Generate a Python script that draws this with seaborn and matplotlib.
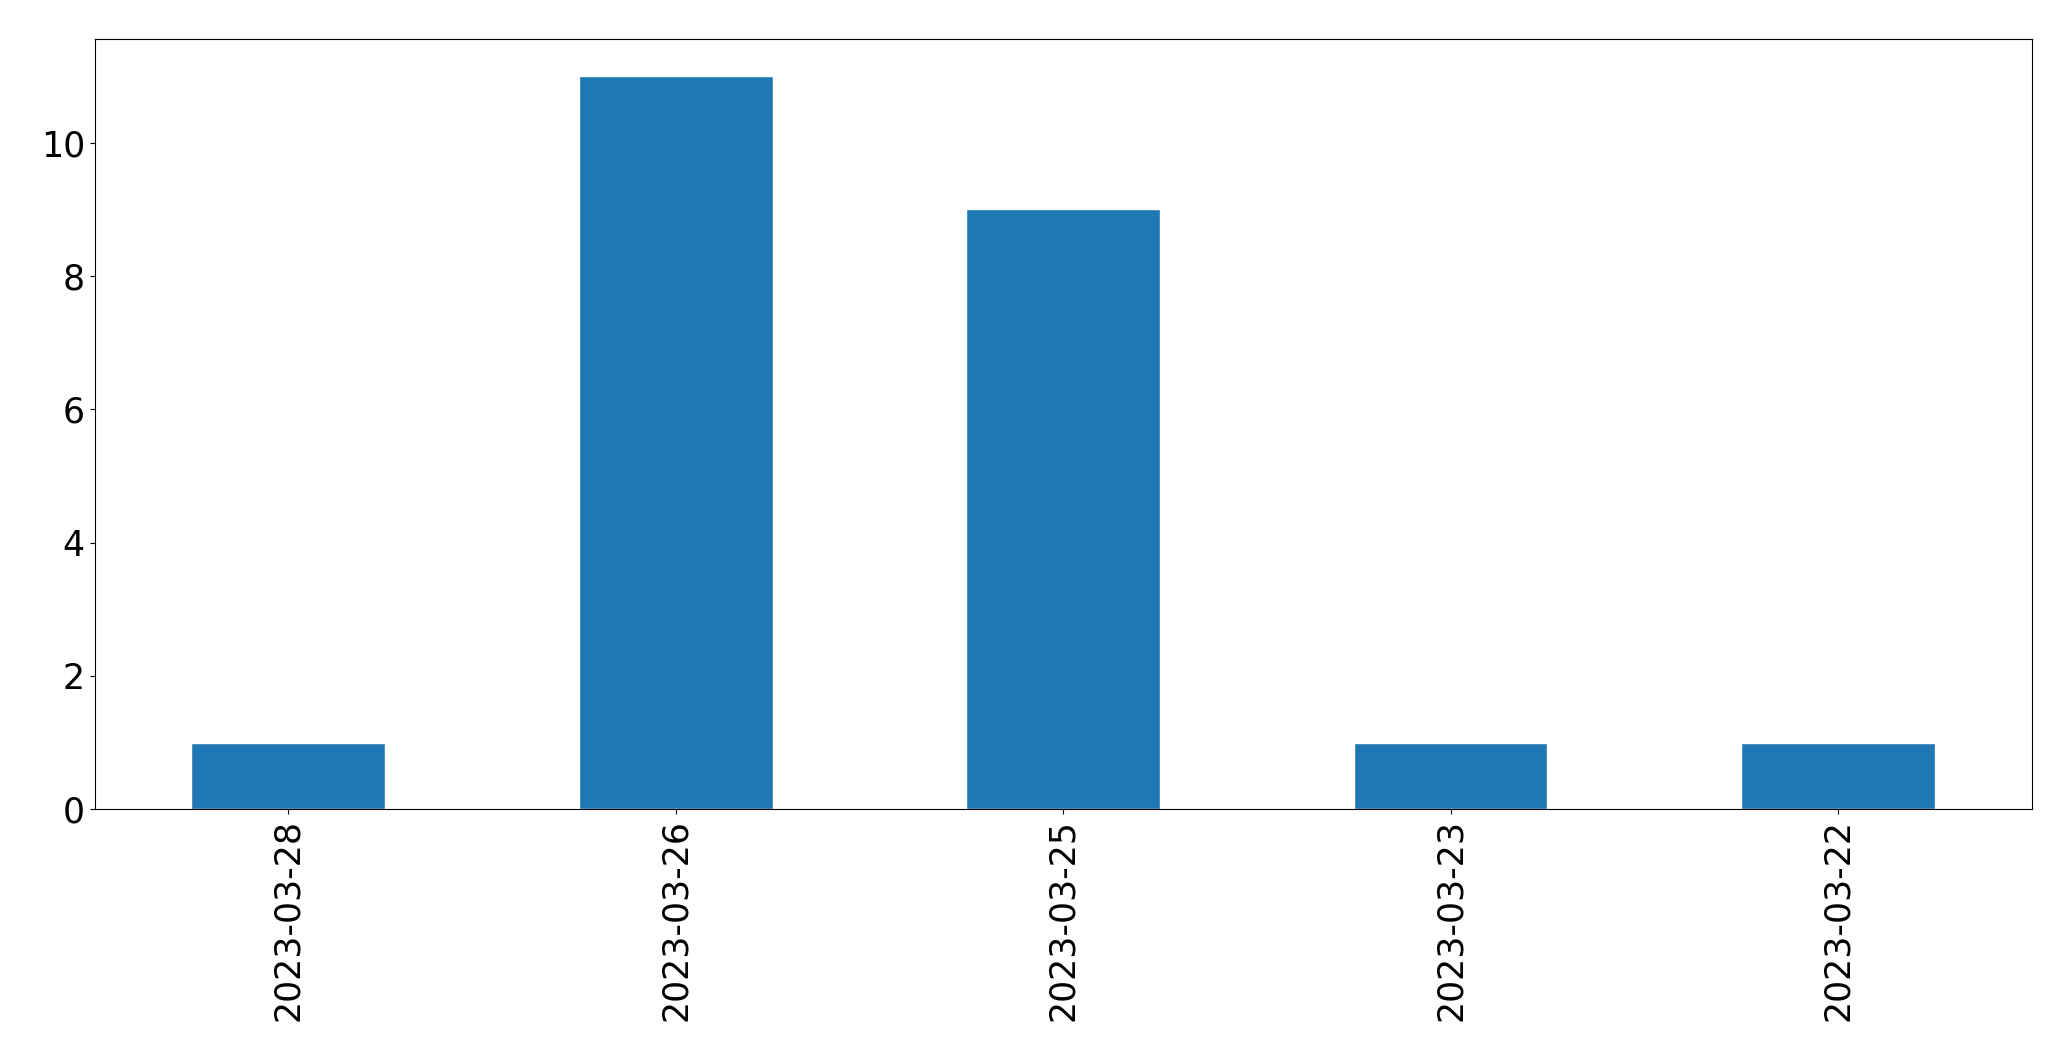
import pandas as pd
import matplotlib
matplotlib.use('Agg')
import matplotlib.pyplot as plt
import seaborn as sns

# Datos
dates = ['2023-03-28', '2023-03-26', '2023-03-25', '2023-03-23', '2023-03-22']
counts = [1, 11, 9, 1, 1]

df = pd.DataFrame({'date': dates, 'count': counts})

sns.set_style('ticks', {'axes.edgecolor': 'black', 'text.color': 'black',
                        'xtick.color': 'black', 'ytick.color': 'black',
                        'axes.labelcolor': 'black'})
plt.rcParams['font.family'] = ['DejaVu Sans']

fig, ax = plt.subplots(figsize=(20.71, 10.61), dpi=100)
sns.barplot(data=df, x='date', y='count', order=dates, color='#1f77b4',
            saturation=1, width=0.5, ax=ax)

ax.set_xlabel('')
ax.set_ylabel('')
ax.tick_params(axis='both', labelsize=25, colors='black')
ax.tick_params(axis='x', labelrotation=90)
ax.set_xlim(-0.5, len(dates) - 0.5)
ax.set_ylim(0, 11.55)
for s in ax.spines.values():
    s.set_visible(True)
    s.set_linewidth(0.8)
    s.set_color('black')

plt.subplots_adjust(left=0.0457, right=0.981, top=0.963, bottom=0.2372)
plt.savefig('out.png', dpi=100)
plt.close()
